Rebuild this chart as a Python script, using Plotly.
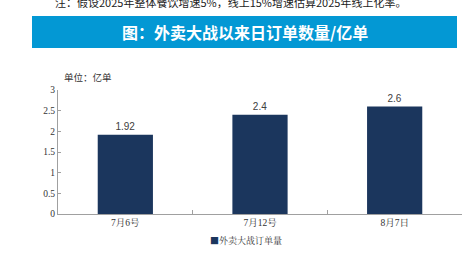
import plotly.graph_objects as go

categories = ["7月6号", "7月12号", "8月7日"]
values = [1.92, 2.4, 2.6]
value_labels = ["1.92", "2.4", "2.6"]
series_name = "外卖大战订单量"
title_text = "图：外卖大战以来日订单数量/亿单"
note_text = "注：假设2025年整体餐饮增速5%，线上15%增速估算2025年线上化率。"
unit_text = "单位：亿单"
y_ticks = [0, 0.5, 1, 1.5, 2, 2.5, 3]
bar_color = "#1B365D"

W, H = 473, 265
L, R, T, B = 58, 11, 90, 51
pw, ph = W - L - R, H - T - B

def px_x(p):
    return (p - L) / pw

def px_y(p):
    return (H - B - p) / ph

fig = go.Figure()
fig.add_trace(go.Bar(
    x=categories, y=values, name=series_name,
    marker=dict(color=bar_color, line=dict(width=0)),
    width=0.41, showlegend=False,
    text=value_labels, textposition="outside",
    textfont=dict(family="Liberation Sans, Arial", size=10, color="#404040"),
    cliponaxis=False,
))

fig.update_layout(
    width=W, height=H,
    margin=dict(l=L, r=R, t=T, b=B),
    paper_bgcolor="white", plot_bgcolor="white",
    showlegend=False,
    xaxis=dict(
        showline=True, linecolor="#A0A0A0", linewidth=1,
        ticks="inside", ticklen=4, tickcolor="#A0A0A0", tickson="boundaries",
        tickfont=dict(family="Liberation Serif, Noto Serif CJK SC, Noto Sans CJK SC", size=9.5, color="#333"),
        showgrid=False, fixedrange=True,
    ),
    yaxis=dict(
        range=[0, 3], tickvals=y_ticks, ticktext=[f"{v:g}" for v in y_ticks],
        showline=True, linecolor="#A0A0A0", linewidth=1,
        ticks="inside", ticklen=3, tickcolor="#A0A0A0",
        tickfont=dict(family="Liberation Serif", size=9.5, color="#333"),
        showgrid=False, zeroline=False, fixedrange=True,
    ),
)

# Blue banner
fig.add_shape(type="rect", xref="paper", yref="paper",
              x0=px_x(32), x1=px_x(457), y0=px_y(48), y1=px_y(16),
              fillcolor="#0398D4", line=dict(width=0), layer="below")

fig.add_annotation(xref="paper", yref="paper", x=px_x(245), y=px_y(32),
                   text="<b>" + title_text + "</b>", showarrow=False,
                   xanchor="center", yanchor="middle",
                   font=dict(family="Noto Sans CJK SC", size=16, color="white"))

fig.add_annotation(xref="paper", yref="paper", x=px_x(53), y=px_y(2),
                   text=note_text, showarrow=False,
                   xanchor="left", yanchor="middle",
                   font=dict(family="Noto Sans CJK SC", size=11, color="#222"))

fig.add_annotation(xref="paper", yref="paper", x=px_x(62), y=px_y(77),
                   text=unit_text, showarrow=False,
                   xanchor="left", yanchor="middle",
                   font=dict(family="Noto Sans CJK SC", size=9.5, color="#333"))

# Legend (square marker + series name)
fig.add_annotation(xref="paper", yref="paper", x=px_x(246), y=px_y(240),
                   text=f"<span style='color:{bar_color}'>■</span>" + series_name,
                   showarrow=False, xanchor="center", yanchor="middle",
                   font=dict(family="Noto Serif CJK SC, Noto Sans CJK SC", size=9, color="#333"))

fig.write_html("out.html")
